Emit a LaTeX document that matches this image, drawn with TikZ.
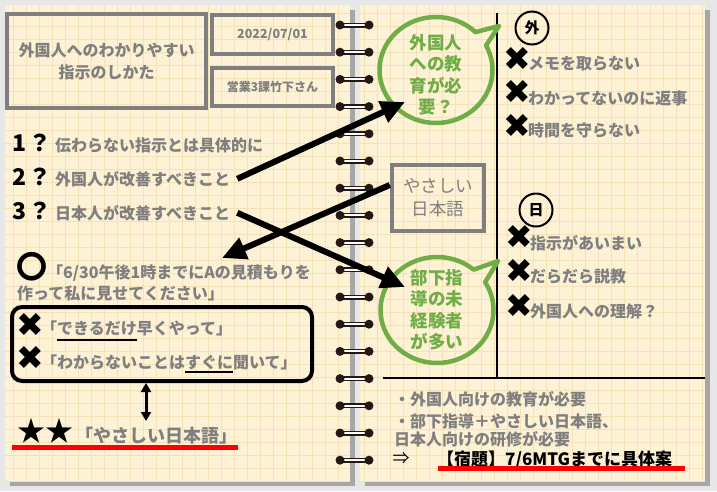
\documentclass[tikz,border=0pt]{standalone}
\usepackage{fontspec}
\setmainfont{Noto Sans CJK JP}
\newfontfamily\dingfont{DejaVu Sans}
\usetikzlibrary{arrows.meta,
    shapes.callouts}

\definecolor{desk}{HTML}{E7E7E7}
\definecolor{pageshadow}{HTML}{A6A6A6}
\definecolor{paper}{HTML}{FDF2D6}
\definecolor{gridtan}{HTML}{F4E2B6}
\definecolor{memogray}{HTML}{7F7F7F}
\definecolor{ringdark}{HTML}{231815}
\definecolor{bubblegreen}{HTML}{70AD47}

\tikzset{
  memo/.style={text=memogray, font=\bfseries\fontsize{16}{20}\selectfont,
    inner sep=0pt, anchor=base west},
  graybox/.style={draw=memogray, line width=4pt, text=memogray, align=center, inner sep=0pt},
  bubble/.style={ellipse callout, draw=bubblegreen, line width=4.5pt, line join=round,
    minimum width=113pt, minimum height=106pt, inner sep=0pt, callout pointer arc=18},
  bubbletext/.style={text=bubblegreen, font=\bfseries\fontsize{17.5}{21.5}\selectfont,
    align=center, inner sep=0pt},
  bigarrow/.style={line width=6pt, -{Triangle[length=24pt,width=22pt]}},
  crossmark/.style={font=\dingfont\fontsize{33}{33}\selectfont, inner sep=0pt},
  tagcircle/.style={draw, circle, line width=2pt, minimum size=33pt, inner sep=0pt,
    font=\bfseries\fontsize{15}{15}\selectfont},
  inkline/.style={line width=2.5pt},
  redline/.style={red, line width=5pt}
}

\begin{document}
\begin{tikzpicture}[x=1pt,y=-1pt]
\useasboundingbox[fill=desk] (0,0) rectangle (717,491);
% the two pages
\fill[pageshadow] (10,10) rectangle (355,486);
\fill[pageshadow] (365,10) rectangle (710,486);
\fill[paper] (5,5) rectangle (350,481);
\fill[paper] (360,5) rectangle (705,481);
\draw[gridtan, line width=1pt, step=13pt] (5,481) grid (350,5);
\draw[gridtan, line width=1pt, step=13pt] (360,481) grid (705,5);
% rings
\foreach \ry in {25,52.2,...,461} {
  \draw[ringdark, line width=5pt] (340,\ry) -- (369,\ry);
  \draw[white, line width=2pt] (344,\ry) -- (365,\ry);
  \fill[ringdark] (340,\ry) circle (4.5pt) (369,\ry) circle (4.5pt);
}

% left page
\node[graybox, minimum width=199pt, minimum height=94pt,
  font=\bfseries\fontsize{16}{22}\selectfont] (title) at (106.5,61)
  {外国人へのわかりやすい\\指示のしかた};
\node[graybox, minimum width=121pt, minimum height=39pt,
  font=\bfseries\fontsize{12.5}{15}\selectfont] (date) at (272.5,34.5) {2022/07/01};
\node[graybox, minimum width=121pt, minimum height=38pt,
  font=\bfseries\fontsize{12}{15}\selectfont] (staff) at (272.5,87) {営業3課竹下さん};

\node[memo, text=black, font=\bfseries\fontsize{23}{23}\selectfont] (n1) at (12,151) {1\hspace{2pt}？};
\node[memo] (t1) at (55,151) {伝わらない指示とは具体的に};
\node[memo, text=black, font=\bfseries\fontsize{23}{23}\selectfont] (n2) at (12,185) {2\hspace{2pt}？};
\node[memo] (t2) at (55,185) {外国人が改善すべきこと};
\node[memo, text=black, font=\bfseries\fontsize{23}{23}\selectfont] (n3) at (12,219) {3\hspace{2pt}？};
\node[memo] (t3) at (55,219) {日本人が改善すべきこと};

\node[font=\bfseries\fontsize{31}{31}\selectfont, inner sep=0pt] (okmark) at (32,267) {〇};
\node[memo] (ok1) at (47,278) {「6/30午後1時までにAの見積もりを};
\node[memo] (ok2) at (17,299) {作って私に見せてください」};

\node[draw, line width=4pt, rounded corners=10pt, minimum width=300pt,
  minimum height=74pt] (ngbox) at (162,344) {};
\node[crossmark] (x1) at (30,325) {✖};
\node[memo] (ng1) at (41,334) {「できるだけ早くやって」};
\node[crossmark] (x2) at (30,358) {✖};
\node[memo] (ng2) at (41,368) {「わからないことはすぐに聞いて」};
\draw[inkline] (57,340) -- (137,340);
\draw[inkline] (185,372) -- (233,372);

\node[font=\fontsize{28}{28}\selectfont, inner sep=0pt] (stars) at (45,431) {★★};
\node[memo, font=\bfseries\fontsize{18}{20}\selectfont] (easy) at (75,442) {「やさしい日本語」};
\draw[redline] (12,447) -- (238,447);
\coordinate (linkend) at (146,421);
\draw[line width=3pt, {Triangle[length=9pt,width=10pt]}-{Triangle[length=9pt,width=10pt]}]
  (ngbox.south -| linkend) -- (linkend);

% right page
\draw[line width=2.5pt] (497,13) -- (497,378);
\draw[line width=2.5pt] (383,378) -- (705,378);

\node[bubble, callout absolute pointer={(499,26)}] (edu) at (436,70) {};
\node[bubbletext] (edutext) at (436,75) {外国人\\への教\\育が必\\要？};
\node[bubble, callout absolute pointer={(498,261)}] (boss) at (437,310) {};
\node[bubbletext] (bosstext) at (437,310) {部下指\\導の未\\経験者\\が多い};
\node[graybox, minimum width=92.5pt, minimum height=65.5pt,
  font=\fontsize{17.5}{23}\selectfont] (yasa) at (438,198) {やさしい\\日本語};

\node[tagcircle] (gai) at (532,28) {外};
\node[crossmark] (g1x) at (517,59) {✖};
\node[memo] (g1) at (528,69) {メモを取らない};
\node[crossmark] (g2x) at (517,92) {✖};
\node[memo] (g2) at (528,104) {わかってないのに返事};
\node[crossmark] (g3x) at (517,126) {✖};
\node[memo] (g3) at (528,136) {時間を守らない};

\node[tagcircle] (nichi) at (536,210) {日};
\node[crossmark] (j1x) at (519,237) {✖};
\node[memo] (j1) at (530,249) {指示があいまい};
\node[crossmark] (j2x) at (519,271) {✖};
\node[memo] (j2) at (530,282) {だらだら説教};
\node[crossmark] (j3x) at (519,306) {✖};
\node[memo] (j3) at (530,317) {外国人への理解？};

\node[memo] (sum1) at (394,405) {・外国人向けの教育が必要};
\node[memo] (sum2) at (394,427) {・部下指導＋やさしい日本語、};
\node[memo] (sum3) at (394,445) {日本人向けの研修が必要};
\node[font=\fontsize{17}{17}\selectfont, inner sep=0pt] (then) at (401,458) {⇒};
\node[memo, text=black, font=\bfseries\fontsize{17}{20}\selectfont] (task) at (437,465)
  {【宿題】7/6MTGまでに具体案};
\draw[redline] (438,468) -- (685,468);

% arrows
\coordinate (tipedu) at (405,102);
\coordinate (tipok) at (222,258);
\coordinate (tipboss) at (405,287);
\draw[bigarrow] ([xshift=7pt]t2.east) -- (tipedu);
\draw[bigarrow] ([yshift=13pt]yasa.west) -- (tipok);
\draw[bigarrow] ([xshift=7pt]t3.east) -- (tipboss);
\end{tikzpicture}
\end{document}
